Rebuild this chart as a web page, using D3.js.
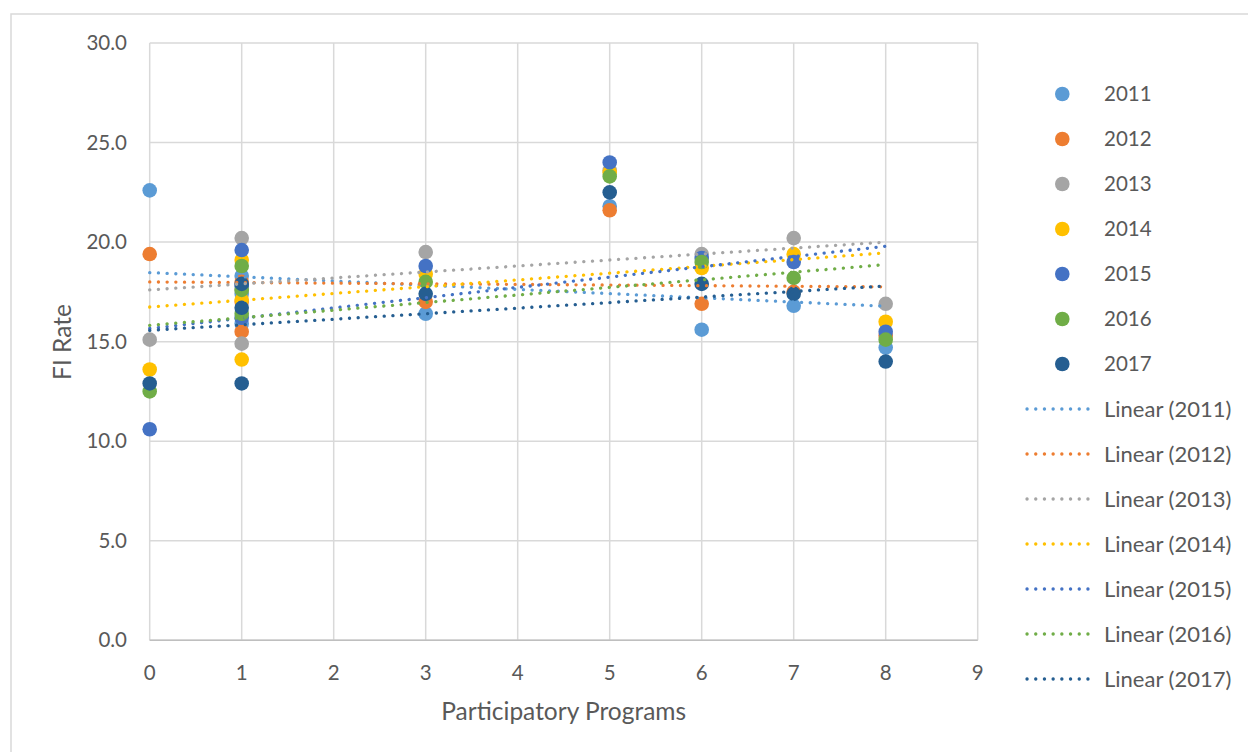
<!DOCTYPE html>
<html>
<head>
<meta charset="utf-8">
<script src="https://cdn.jsdelivr.net/npm/d3@7"></script>
<style>
  body { margin: 0; background: #fff; }
  svg text { font-family: Lato, "Open Sans", sans-serif; fill: #595959; }
</style>
</head>
<body>
<svg></svg>
<script>
const width = 1248, height = 752;

// number of participatory programs per county (x), same order in every year
const programs = [0, 1, 1, 1, 3, 5, 6, 7, 8];

const years = ['2011', '2012', '2013', '2014', '2015', '2016', '2017'];
const colors = ['#5B9BD5', '#ED7D31', '#A5A5A5', '#FFC000', '#4472C4', '#70AD47', '#255E91'];

// FI rate per county
const fi2011 = [22.6, 18.3, 17.4, 15.9, 16.4, 21.8, 15.6, 16.8, 14.7];
const fi2012 = [19.4, 18.0, 17.0, 15.5, 17.0, 21.6, 16.9, 17.5, 15.3];
const fi2013 = [15.1, 20.2, 17.6, 14.9, 19.5, 23.6, 19.4, 20.2, 16.9];
const fi2014 = [13.6, 19.1, 17.1, 14.1, 18.4, 23.5, 18.7, 19.4, 16.0];
const fi2015 = [10.6, 19.6, 17.8, 16.2, 18.8, 24.0, 19.2, 19.0, 15.5];
const fi2016 = [12.5, 18.8, 17.6, 16.4, 18.0, 23.3, 19.0, 18.2, 15.1];
const fi2017 = [12.9, 17.9, 16.7, 12.9, 17.4, 22.5, 17.9, 17.4, 14.0];
const series = [fi2011, fi2012, fi2013, fi2014, fi2015, fi2016, fi2017];

// linear trendlines, value at x = 0 and at x = 8
const trendStart = [18.47, 18.0, 17.6, 16.74, 15.66, 15.82, 15.57];
const trendEnd = [16.78, 17.75, 20.0, 19.46, 19.79, 18.87, 17.8];

const yTicks = [0, 5, 10, 15, 20, 25, 30];
const xTicks = [0, 1, 2, 3, 4, 5, 6, 7, 8, 9];

const svg = d3.select("svg")
              .attr("width", width)
              .attr("height", height);

// chart area border
svg.append("rect")
   .attr("x", 11).attr("y", 14)
   .attr("width", width).attr("height", height)
   .attr("fill", "#fff")
   .attr("stroke", "#D9D9D9")
   .attr("stroke-width", 1.5);

const x = d3.scaleLinear().domain([0, 9]).range([149.7, 977.7]);
const y = d3.scaleLinear().domain([0, 30]).range([640.3, 43]);

// grid
svg.append("g").selectAll("line")
   .data(yTicks)
   .join("line")
   .attr("x1", x(0)).attr("x2", x(9))
   .attr("y1", d => y(d)).attr("y2", d => y(d))
   .attr("stroke", "#D9D9D9").attr("stroke-width", 1.5);

svg.append("g").selectAll("line")
   .data(xTicks)
   .join("line")
   .attr("x1", d => x(d)).attr("x2", d => x(d))
   .attr("y1", y(0)).attr("y2", y(30))
   .attr("stroke", "#D9D9D9").attr("stroke-width", 1.5);

// axis line
svg.append("line")
   .attr("x1", x(0)).attr("x2", x(9))
   .attr("y1", y(0)).attr("y2", y(0))
   .attr("stroke", "#BFBFBF").attr("stroke-width", 1.5);

// tick labels
svg.append("g").selectAll("text")
   .data(yTicks)
   .join("text")
   .attr("x", 127)
   .attr("y", d => y(d))
   .attr("dy", "0.35em")
   .attr("text-anchor", "end")
   .attr("font-size", 20.5)
   .text(d => d3.format(".1f")(d));

svg.append("g").selectAll("text")
   .data(xTicks)
   .join("text")
   .attr("x", d => x(d))
   .attr("y", 673)
   .attr("dy", "0.35em")
   .attr("text-anchor", "middle")
   .attr("font-size", 20.5)
   .text(d => d);

// axis titles
svg.append("text")
   .attr("x", (x(0) + x(9)) / 2)
   .attr("y", 711)
   .attr("dy", "0.35em")
   .attr("text-anchor", "middle")
   .attr("font-size", 24.5)
   .text("Participatory Programs");

svg.append("text")
   .attr("transform", "translate(62,342) rotate(-90)")
   .attr("dy", "0.35em")
   .attr("text-anchor", "middle")
   .attr("font-size", 24.5)
   .text("FI Rate");

// markers, one group per year
series.forEach((vals, i) => {
  svg.append("g").selectAll("circle")
     .data(vals)
     .join("circle")
     .attr("cx", (d, j) => x(programs[j]))
     .attr("cy", d => y(d))
     .attr("r", 7.3)
     .attr("fill", colors[i]);
});

// trendlines on top
const line = d3.line().x(d => x(d[0])).y(d => y(d[1]));
years.forEach((yr, i) => {
  svg.append("path")
     .attr("d", line([[0, trendStart[i]], [8, trendEnd[i]]]))
     .attr("fill", "none")
     .attr("stroke", colors[i])
     .attr("stroke-width", 3.3)
     .attr("stroke-linecap", "round")
     .attr("stroke-dasharray", "0.1 8.6");
});

// legend
const legend = svg.append("g");
years.forEach((yr, i) => {
  const cy = 94 + i * 45;
  legend.append("circle")
        .attr("cx", 1062.3).attr("cy", cy).attr("r", 7.3)
        .attr("fill", colors[i]);
  legend.append("text")
        .attr("x", 1104).attr("y", cy).attr("dy", "0.35em")
        .attr("font-size", 20.5)
        .text(yr);
});
years.forEach((yr, i) => {
  const ly = 409 + i * 45;
  legend.append("line")
        .attr("x1", 1027).attr("x2", 1096)
        .attr("y1", ly).attr("y2", ly)
        .attr("stroke", colors[i])
        .attr("stroke-width", 3.3)
        .attr("stroke-linecap", "round")
        .attr("stroke-dasharray", "0.1 8.6");
  legend.append("text")
        .attr("x", 1104).attr("y", ly).attr("dy", "0.35em")
        .attr("font-size", 22)
        .text(`Linear (${yr})`);
});
</script>
</body>
</html>
